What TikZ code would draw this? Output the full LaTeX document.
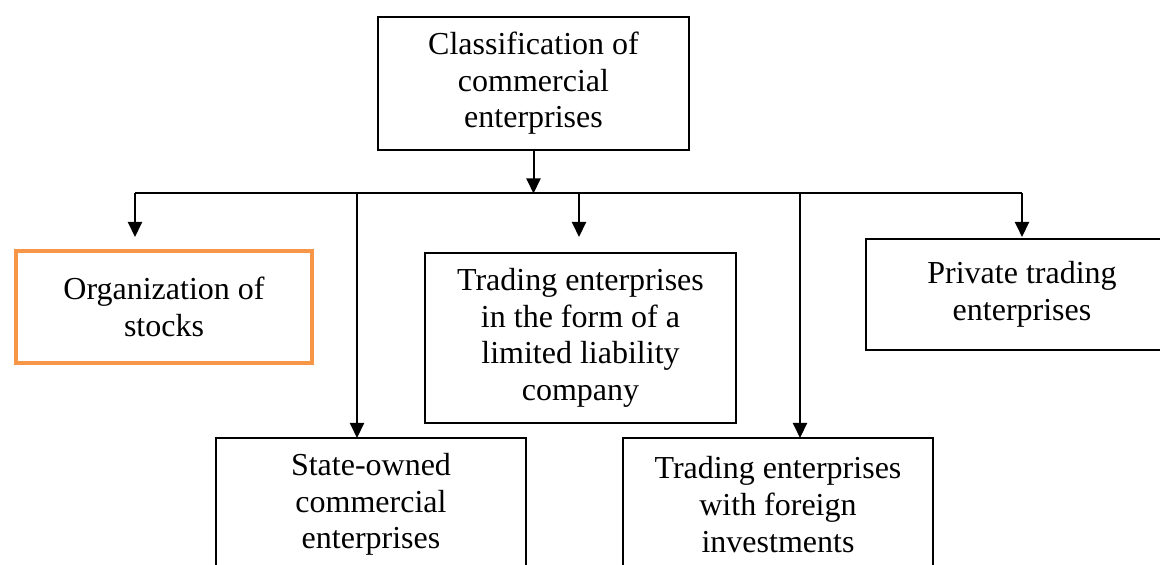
\documentclass[tikz,border=0pt]{standalone}
\usepackage{fontspec}
\setmainfont{Liberation Serif}
\usepackage{xcolor}
\usepackage{tikz}
\usetikzlibrary{arrows.meta,positioning}
\definecolor{stockorange}{HTML}{F79646}
\tikzset{
  box/.style      ={draw,line width=1.2pt,align=center,outer sep=0pt,inner sep=2pt},
  stockbox/.style ={box,draw=stockorange,line width=2.25pt},
  arrow/.style    ={-{Triangle[length=7.5pt,width=7pt]},line width=1pt}
}

\begin{document}
\begin{tikzpicture}[every node/.style={font=\fontsize{16}{18.3}\selectfont}]
    \useasboundingbox (0,0) rectangle (580pt,-282.5pt);
    \node[box,minimum width=155.5pt,minimum height=66.5pt] (root) at (266.75pt,-41.75pt)
      {Classification of\\commercial\\enterprises};
    % second row
    \node[stockbox,below=50.5pt of root,xshift=-184.75pt,minimum width=148pt,minimum height=56pt] (stocks)
      {Organization of\\stocks};
    \node[box,below=51.5pt of root,xshift=23.5pt,minimum width=155.5pt,minimum height=85pt] (llc)
      {Trading enterprises\\in the form of a\\limited liability\\company};
    \node[box,below=44.5pt of root,xshift=244.25pt,minimum width=156pt,minimum height=55.5pt] (private)
      {Private trading\\enterprises};
    % third row
    \node[box,below=7.5pt of llc,xshift=-104.75pt,minimum width=155pt,minimum height=66.5pt] (state)
      {State-owned\\commercial\\enterprises};
    \node[box,below=7.5pt of llc,xshift=98.75pt,minimum width=155pt,minimum height=66.5pt] (foreign)
      {Trading enterprises\\with foreign\\investments};
    % bus and drop points
    \coordinate (bus) at ([yshift=-21.75pt]root.south);
    \coordinate (stocksin) at ([xshift=-14.5pt,yshift=7pt]stocks.north);
    \coordinate (llcin) at ([xshift=-0.75pt,yshift=8pt]llc.north);
    \coordinate (statein) at ([xshift=-7pt]state.north);
    \coordinate (foreignin) at ([xshift=11pt]foreign.north);
    \draw[arrow] (root) -- (bus);
    \draw[line width=1pt] (bus -| stocksin) -- (bus -| private);
    \draw[arrow] (bus -| stocksin)  -- (stocksin);
    \draw[arrow] (bus -| llcin)     -- (llcin);
    \draw[arrow] (bus -| private)   -- ([yshift=1pt]private.north);
    \draw[arrow] (bus -| statein)   -- (statein);
    \draw[arrow] (bus -| foreignin) -- (foreignin);
  \end{tikzpicture}
\end{document}
